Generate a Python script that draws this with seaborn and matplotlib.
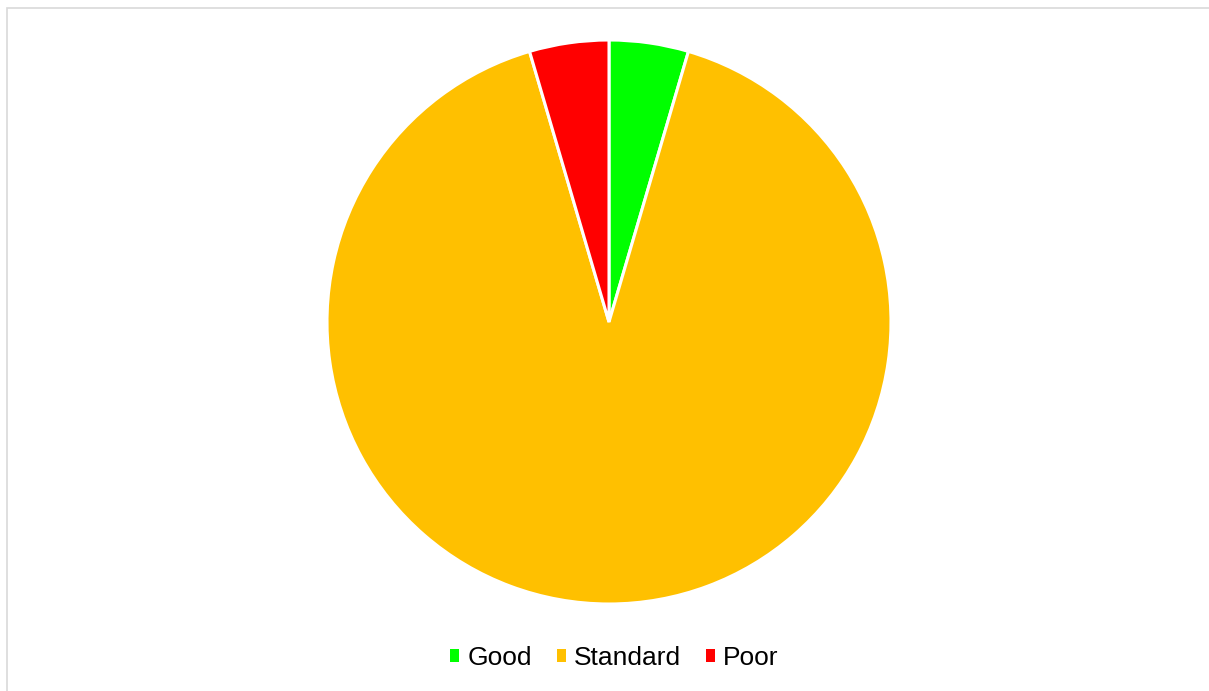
import matplotlib
matplotlib.use("Agg")
import matplotlib.pyplot as plt
import seaborn as sns
from matplotlib.patches import Rectangle, Patch

categories = ["Good", "Standard", "Poor"]
values = [1, 20, 1]
colors = ["#00FF00", "#FFC000", "#FF0000"]

sns.set_theme(style="white")
plt.rcParams["font.family"] = ["Liberation Sans", "DejaVu Sans"]
plt.rcParams["text.color"] = "black"

W, H = 1209, 691
fig = plt.figure(figsize=(W / 100, H / 100), dpi=100)
fig.patch.set_facecolor("white")

# chart area border (extends past right and bottom edges)
fig.patches.append(Rectangle((7 / W, -0.05), 1.1, (H - 8) / H + 0.05,
                             transform=fig.transFigure, fill=False,
                             edgecolor="#d9d9d9", linewidth=1.2))

ax = fig.add_axes([0, 0, 1, 1])
wedges, _ = ax.pie(values, colors=colors, startangle=90, counterclock=False,
                   center=(609, H - 322), radius=282,
                   wedgeprops=dict(edgecolor="white", linewidth=2.2))
ax.set_xlim(0, W)
ax.set_ylim(0, H)
ax.set_aspect("equal")
ax.axis("off")

handles = [Patch(facecolor=c, edgecolor="none", label=l) for c, l in zip(colors, categories)]
leg = ax.legend(handles=handles, loc="center", bbox_to_anchor=(614.5 / W, (H - 658) / H),
                ncol=3, frameon=False, fontsize=19, handlelength=0.34, handleheight=0.34,
                handletextpad=0.33, columnspacing=0.92, borderpad=0)
for t in leg.get_texts():
    t.set_color("black")

fig.savefig("out.png", dpi=100)
